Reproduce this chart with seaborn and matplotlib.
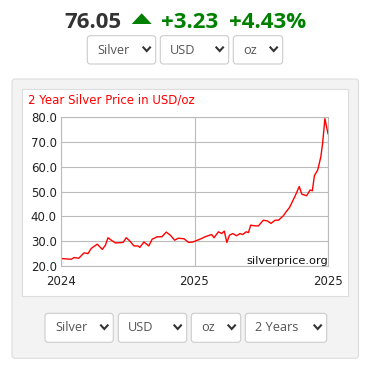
import matplotlib
matplotlib.use("Agg")
import matplotlib.pyplot as plt
from matplotlib.patches import FancyBboxPatch, Rectangle, Polygon
import seaborn as sns
import pandas as pd

# ---- data ----
weeks = [0, 4.0, 5.1, 6.9, 9.0, 10.5, 11.8, 14.1, 16.1, 17.3, 18.3, 19.6, 21.2,
         24.2, 25.4, 26.8, 28.4, 30.0, 30.7, 32.3, 34.2, 35.5, 37.5, 39.3, 41.0,
         42.6, 44.3, 45.6, 47.9, 49.7, 51.4, 53.1, 54.8, 56.1, 58.7, 59.6, 61.3,
         62.6, 63.6, 64.6, 65.6, 66.9, 68.4, 69.7, 70.8, 72.1, 73.0, 73.9, 75.6,
         76.9, 78.8, 80.4, 81.8, 83.4, 84.7, 86.6, 87.9, 89.0, 91.2, 92.8, 93.8,
         95.7, 97.0, 97.9, 98.7, 100.0, 101.2, 101.9, 102.8, 104.0]
prices = [22.9, 22.6, 23.3, 23.0, 25.2, 24.9, 27.0, 28.7, 26.6, 28.3, 31.3, 30.3, 29.2,
          29.4, 31.3, 30.0, 28.0, 28.0, 27.4, 29.6, 28.0, 30.7, 31.7, 31.7, 33.6,
          32.3, 30.3, 31.1, 30.9, 29.4, 29.6, 30.3, 31.0, 31.7, 32.6, 31.3, 33.7,
          33.0, 34.0, 29.4, 32.3, 33.0, 32.1, 33.0, 32.6, 33.7, 33.4, 36.4, 36.1,
          36.1, 38.4, 38.1, 37.1, 38.4, 38.4, 40.2, 42.1, 43.5, 48.2, 52.0, 48.9,
          48.3, 50.6, 50.3, 56.4, 58.7, 64.0, 69.5, 79.5, 73.3]
x_tick_pos = [0, 52, 104]
x_tick_labels = ["2024", "2025", "2025"]
y_ticks = [20, 30, 40, 50, 60, 70, 80]

price_text = "76.05"
change_text = "+3.23"
pct_text = "+4.43%"
title_text = "2 Year Silver Price in USD/oz"
watermark = "silverprice.org"
top_selects = ["Silver", "USD", "oz"]
bottom_selects = ["Silver", "USD", "oz", "2 Years"]

sns.set_style("white")
plt.rcParams['font.family'] = ['DejaVu Sans']

W, H = 373, 367
fig = plt.figure(figsize=(W / 100, H / 100), dpi=100, facecolor="white")

bg = fig.add_axes([0, 0, 1, 1])
bg.set_xlim(0, W)
bg.set_ylim(H, 0)
bg.axis("off")

GREEN = "#008000"
# header
hdr_font = dict(family="Open Sans", fontsize=16, fontweight="bold", va="baseline", ha="left")
bg.text(64.5, 28.3, price_text, color="#333333", **hdr_font)
bg.add_patch(Polygon([(131.7, 24), (151.7, 24), (141.7, 13.3)], closed=True,
                     fc=GREEN, ec="none"))
bg.text(161.5, 28.3, change_text, color=GREEN, **hdr_font)
bg.text(229, 28.3, pct_text, color=GREEN, **hdr_font)


def select_box(x0, x1, y0, y1, label):
    bg.add_patch(FancyBboxPatch((x0, y0), x1 - x0, y1 - y0,
                                boxstyle="round,pad=0,rounding_size=3",
                                fc="white", ec="#cccccc", lw=0.8))
    bg.text(x0 + 10, y0 + 18, label, family="Open Sans", fontsize=9.2,
            color="#555555", va="baseline", ha="left")
    cx = x1 - 9
    cy = (y0 + y1) / 2 - 1
    bg.plot([cx - 4, cx, cx + 4], [cy - 2.2, cy + 2.2, cy - 2.2],
            color="#333333", lw=1.5, solid_capstyle="butt", solid_joinstyle="miter")


top_boxes = [(87.3, 155.7), (160.3, 228.7), (233.3, 282.7)]
for (a, b), lab in zip(top_boxes, top_selects):
    select_box(a, b, 35.7, 64, lab)

# panel
bg.add_patch(FancyBboxPatch((12, 79), 346.5, 279.3,
                            boxstyle="round,pad=0,rounding_size=3",
                            fc="#f3f3f3", ec="#dddddd", lw=0.8))
bg.add_patch(Rectangle((21.7, 89.3), 326.6, 206.7, fc="white", ec="#dddddd", lw=0.8))
bg.text(27.5, 103.7, title_text, color="#ff0000", fontsize=8.5,
        va="baseline", ha="left")

bottom_boxes = [(45, 113.3), (118.3, 186.7), (191.3, 240.7), (245.3, 326.7)]
for (a, b), lab in zip(bottom_boxes, bottom_selects):
    select_box(a, b, 313.3, 342.3, lab)

# chart axes
ax_l, ax_r, ax_t, ax_b = 61, 328, 117.3, 265.7
ax = fig.add_axes([ax_l / W, 1 - ax_b / H, (ax_r - ax_l) / W, (ax_b - ax_t) / H])
ax.set_facecolor("none")
df = pd.DataFrame({"week": weeks, "price": prices})
sns.lineplot(data=df, x="week", y="price", ax=ax, color="#ff0000", lw=1.0)
ax.set_xlim(0, 104)
ax.set_ylim(20, 80)
ax.set_yticks(y_ticks)
ax.set_yticklabels([f"{v:.1f}" for v in y_ticks])
ax.set_xticks(x_tick_pos)
ax.set_xticklabels(x_tick_labels)
ax.set_xlabel("")
ax.set_ylabel("")
ax.grid(True, color="#bbbbbb", lw=0.8)
ax.set_axisbelow(True)
for s in ax.spines.values():
    s.set_color("#bbbbbb")
    s.set_linewidth(0.8)
ax.tick_params(axis="y", length=0, pad=3, labelsize=8.5, labelcolor="#222222")
ax.tick_params(axis="x", length=5, width=0.8, color="#bbbbbb", pad=2,
               labelsize=8.5, labelcolor="#222222")
ax.text(1.0, 0.0, watermark, transform=ax.transAxes, ha="right", va="bottom",
        fontsize=8.2, color="#111111")

fig.savefig("out.png", dpi=100, facecolor="white")
